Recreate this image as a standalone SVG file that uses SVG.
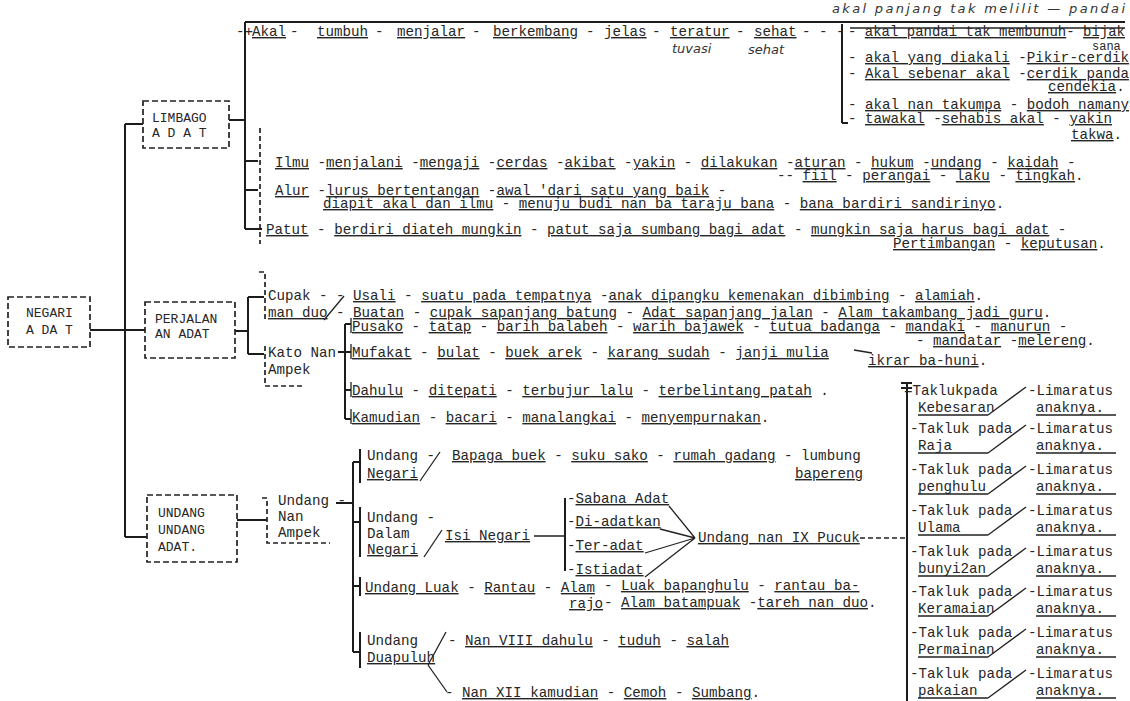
<svg xmlns="http://www.w3.org/2000/svg" width="1130" height="701" viewBox="0 0 1130 701" xml:space="preserve">
<style>
text{font-family:"Liberation Mono","DejaVu Sans Mono",monospace;font-size:14.2px;fill:#262626;}
.u{text-decoration:underline;}
.bx{font-size:13px;}
.sm{font-size:12px;}
.hw{font-family:"DejaVu Sans","Liberation Sans",sans-serif;font-style:italic;font-size:13px;fill:#333;}
.box{fill:none;stroke:#222;stroke-width:1.7;stroke-dasharray:6 3;}
.ln{fill:none;stroke:#1c1c1c;stroke-width:2;}
.th{fill:none;stroke:#222;stroke-width:1.3;}
.ds{fill:none;stroke:#222;stroke-width:1.7;stroke-dasharray:5 3;}
</style>
<rect width="1130" height="701" fill="#ffffff"/>

<g id="connectors">
<path class="ln" d="M125,124 V537 M125,124 H143 M90,330 H145 M125,537 H147"/>
<path class="ln" d="M229,120 H245 M245,22 V229 M245,22 H1125 M245,161 H258 M245,190 H258 M245,229 H262"/>
<path class="th" d="M850,28 H1125"/>
<path class="ds" d="M260,128 V244"/>
<path class="ln" d="M842,24 V123 M842,123 H848"/>
<path class="ln" d="M235,331 H248 M248,297 V354 M248,297 H264 M248,354 H264"/>
<path class="ds" d="M259,272 H265 V320 M265,346 V386 H302"/>
<path class="th" d="M324,320 L344,296"/>
<path class="ln" d="M338,352 H345 M345,324 V419 M345,324 H351 M345,352 H351 M345,390 H351 M345,419 H351"/>
<path class="th" d="M351,318 V333 M351,344 V359 M351,382 V397 M351,409 V424"/>
<path class="th" d="M854,350 L872,353"/>
<path class="ln" d="M237,520 H267"/>
<path class="ds" d="M262,498 H267 V543 H330"/>
<path class="ln" d="M336,503 H353 M353,462 V652 M353,462 H360 M353,522 H360 M353,586 H360 M353,652 H360"/>
<path class="ln" d="M360,449 V483 M360,507 V557 M360,577 V596 M360,632 V668"/>
<path class="th" d="M420,481 L440,452 M424,557 L442,530 M534,536 H565"/>
<path class="ln" d="M565,498 V571"/>
<path class="th" d="M669,506 L695,538 M660,529 L695,538 M645,553 L695,538 M645,577 L695,538"/>
<path class="ds" d="M860,538 H907"/>
<path class="ln" d="M907,383 V701 M901,383 H912 M901,388 H912"/>
<path class="th" d="M428,665 L446,632 M428,665 L447,692"/>
<path class="th" d="M918,415 H988 M988,415 L1026,387 M1036,415 H1116 M918,453 H988 M988,453 L1026,425 M1036,453 H1116 M918,494 H988 M988,494 L1026,466 M1036,494 H1116 M918,535 H988 M988,535 L1026,507 M1036,535 H1116 M918,576 H988 M988,576 L1026,548 M1036,576 H1116 M918,616 H988 M988,616 L1026,588 M1036,616 H1116 M918,657 H988 M988,657 L1026,629 M1036,657 H1116 M918,698 H988 M988,698 L1026,670 M1036,698 H1116"/>
</g>

<g id="negari-adat"><rect class="box" x="8" y="297" width="82" height="50"/><text class="bx" x="26" y="317">NEGARI</text><text class="bx" x="26" y="334">A DA T</text></g>
<g id="limbago-adat"><rect class="box" x="143" y="101" width="86" height="47"/><text class="bx" x="152" y="122">LIMBAGO</text><text class="bx" x="152" y="137">A D A T</text></g>
<g id="perjalanan-adat"><rect class="box" x="145" y="302" width="90" height="56"/><text class="bx" x="155" y="323">PERJALAN</text><text class="bx" x="155" y="338">AN ADAT</text></g>
<g id="undang-undang-adat"><rect class="box" x="147" y="495" width="90" height="67"/><text class="bx" x="158" y="517">UNDANG</text><text class="bx" x="158" y="534">UNDANG</text><text class="bx" x="158" y="551">ADAT.</text></g>

<g id="akal">
<text y="36"><tspan x="236">-+</tspan><tspan x="252" class="u">Akal</tspan><tspan x="290">-</tspan><tspan x="317" class="u">tumbuh</tspan><tspan x="375">-</tspan><tspan x="397" class="u">menjalar</tspan><tspan x="472">-</tspan><tspan x="493" class="u">berkembang</tspan><tspan x="586">-</tspan><tspan x="604" class="u">jelas</tspan><tspan x="652">-</tspan><tspan x="670" class="u">teratur</tspan><tspan x="736">-</tspan><tspan x="754" class="u">sehat</tspan><tspan x="802">- - -</tspan></text>
<text class="hw" x="672" y="53">tuvasi</text>
<text class="hw" x="748" y="54">sehat</text>
<text class="hw" x="832" y="13" textLength="293">akal panjang tak melilit — pandai</text>
</g>

<g id="akal-right">
<text x="848" y="36" textLength="277" lengthAdjust="spacingAndGlyphs">- <tspan class="u">akal pandai tak membunuh</tspan>- <tspan class="u">bijak</tspan></text>
<text class="sm" x="1092" y="50">sana</text>
<text x="848" y="62">- <tspan class="u">akal yang diakali</tspan> -<tspan class="u">Pikir-cerdik</tspan></text>
<text x="848" y="78">- <tspan class="u">Akal sebenar akal</tspan> -<tspan class="u">cerdik panda</tspan></text>
<text x="1048" y="91"><tspan class="u">cendekia</tspan>.</text>
<text x="848" y="109">- <tspan class="u">akal nan takumpa</tspan> - <tspan class="u">bodoh namany</tspan></text>
<text x="848" y="123">- <tspan class="u">tawakal</tspan> -<tspan class="u">sehabis akal</tspan> - <tspan class="u">yakin</tspan></text>
<text x="1071" y="139"><tspan class="u">takwa</tspan>.</text>
</g>

<g id="ilmu">
<text x="275" y="167"><tspan class="u">Ilmu</tspan>  -<tspan class="u">menjalani</tspan> -<tspan class="u">mengaji</tspan> -<tspan class="u">cerdas</tspan> -<tspan class="u">akibat</tspan> -<tspan class="u">yakin</tspan> - <tspan class="u">dilakukan</tspan> -<tspan class="u">aturan</tspan> - <tspan class="u">hukum</tspan> -<tspan class="u">undang</tspan> - <tspan class="u">kaidah</tspan> -</text>
<text x="777" y="180">-- <tspan class="u">fiil</tspan> - <tspan class="u">perangai</tspan> - <tspan class="u">laku</tspan> - <tspan class="u">tingkah</tspan>.</text>
</g>
<g id="alur">
<text x="275" y="195"><tspan class="u">Alur</tspan> -<tspan class="u">lurus bertentangan</tspan> -<tspan class="u">awal 'dari satu yang baik</tspan> -</text>
<text x="323" y="208"><tspan class="u">diapit akal dan ilmu</tspan> - <tspan class="u">menuju budi nan ba taraju bana</tspan> - <tspan class="u">bana bardiri sandirinyo</tspan>.</text>
</g>
<g id="patut">
<text x="266" y="234"><tspan class="u">Patut</tspan> -  <tspan class="u">berdiri diateh mungkin</tspan> - <tspan class="u">patut saja sumbang bagi adat</tspan> - <tspan class="u">mungkin saja harus bagi adat</tspan> -</text>
<text x="893" y="248"><tspan class="u">Pertimbangan</tspan> - <tspan class="u">keputusan</tspan>.</text>
</g>

<g id="cupak-nan-duo">
<text x="268" y="300">Cupak -</text>
<text x="268" y="317"><tspan class="u">man duo</tspan></text>
<text x="336" y="300">- <tspan class="u">Usali</tspan> - <tspan class="u">suatu pada tempatnya</tspan> -<tspan class="u">anak dipangku kemenakan dibimbing</tspan> - <tspan class="u">alamiah</tspan>.</text>
<text x="336" y="317">- <tspan class="u">Buatan</tspan> - <tspan class="u">cupak sapanjang batung</tspan> - <tspan class="u">Adat sapanjang jalan</tspan> - <tspan class="u">Alam takambang jadi guru</tspan>.</text>
</g>

<g id="kato-nan-ampek">
<text x="268" y="357">Kato Nan</text>
<text x="268" y="374">Ampek</text>
<text x="352" y="331"><tspan class="u">Pusako</tspan> - <tspan class="u">tatap</tspan> -  <tspan class="u">barih balabeh</tspan> -  <tspan class="u">warih bajawek</tspan> - <tspan class="u">tutua badanga</tspan> - <tspan class="u">mandaki</tspan> - <tspan class="u">manurun</tspan> -</text>
<text x="916" y="345">- <tspan class="u">mandatar</tspan> -<tspan class="u">melereng</tspan>.</text>
<text x="352" y="357"><tspan class="u">Mufakat</tspan> -  <tspan class="u">bulat</tspan> - <tspan class="u">buek arek</tspan> -  <tspan class="u">karang sudah</tspan> -  <tspan class="u">janji mulia</tspan></text>
<text x="868" y="365"><tspan class="u">ikrar ba-huni</tspan>.</text>
<text x="352" y="395"><tspan class="u">Dahulu</tspan> -  <tspan class="u">ditepati</tspan> -  <tspan class="u">terbujur lalu</tspan> -  <tspan class="u">terbelintang patah</tspan> .</text>
<text x="352" y="422"><tspan class="u">Kamudian</tspan> -  <tspan class="u">bacari</tspan> -  <tspan class="u">manalangkai</tspan> -  <tspan class="u">menyempurnakan</tspan>.</text>
</g>

<g id="undang-nan-ampek">
<text x="278" y="505">Undang -</text>
<text x="278" y="521">Nan</text>
<text x="278" y="537">Ampek</text>
</g>

<g id="undang-negari">
<text x="367" y="460">Undang -</text>
<text x="367" y="478"><tspan class="u">Negari</tspan></text>
<text x="452" y="460"><tspan class="u">Bapaga buek</tspan> - <tspan class="u">suku sako</tspan> - <tspan class="u">rumah gadang</tspan> - lumbung</text>
<text x="795" y="478"><tspan class="u">bapereng</tspan></text>
</g>

<g id="undang-dalam-negari">
<text x="367" y="522">Undang -</text>
<text x="367" y="538">Dalam</text>
<text x="367" y="554"><tspan class="u">Negari</tspan></text>
<text x="445" y="540"><tspan class="u">Isi Negari</tspan></text>
<text x="567" y="503">-<tspan class="u">Sabana Adat</tspan></text>
<text x="567" y="526">-<tspan class="u">Di-adatkan</tspan></text>
<text x="567" y="550">-<tspan class="u">Ter-adat</tspan></text>
<text x="567" y="574">-<tspan class="u">Istiadat</tspan></text>
<text x="698" y="542"><tspan class="u">Undang nan IX Pucuk</tspan></text>
</g>

<g id="undang-luak">
<text x="365" y="592"><tspan class="u">Undang Luak</tspan> - <tspan class="u">Rantau</tspan> -  <tspan class="u">Alam</tspan></text>
<text x="604" y="590">- <tspan class="u">Luak bapanghulu</tspan> - <tspan class="u">rantau ba-</tspan></text>
<text x="569" y="608"><tspan class="u">rajo</tspan></text>
<text x="604" y="607">- <tspan class="u">Alam batampuak</tspan> -<tspan class="u">tareh nan duo</tspan>.</text>
</g>

<g id="undang-duapuluh">
<text x="367" y="645">Undang</text>
<text x="367" y="662"><tspan class="u">Duapuluh</tspan></text>
<text x="448" y="645">- <tspan class="u">Nan VIII dahulu</tspan> - <tspan class="u">tuduh</tspan> - <tspan class="u">salah</tspan></text>
<text x="445" y="697">- <tspan class="u">Nan XII kamudian</tspan> - <tspan class="u">Cemoh</tspan> - <tspan class="u">Sumbang</tspan>.</text>
</g>

<g id="takluk">
<text x="904" y="395">=Taklukpada</text><text x="1028" y="395">-Limaratus</text><text x="918" y="412">Kebesaran</text><text x="1036" y="412">anaknya.</text>
<text x="910" y="433">-Takluk pada</text><text x="1028" y="433">-Limaratus</text><text x="918" y="450">Raja</text><text x="1036" y="450">anaknya.</text>
<text x="910" y="474">-Takluk pada</text><text x="1028" y="474">-Limaratus</text><text x="918" y="491">penghulu</text><text x="1036" y="491">anaknya.</text>
<text x="910" y="515">-Takluk pada</text><text x="1028" y="515">-Limaratus</text><text x="918" y="532">Ulama</text><text x="1036" y="532">anaknya.</text>
<text x="910" y="556">-Takluk pada</text><text x="1028" y="556">-Limaratus</text><text x="918" y="573">bunyi2an</text><text x="1036" y="573">anaknya.</text>
<text x="910" y="596">-Takluk pada</text><text x="1028" y="596">-Limaratus</text><text x="918" y="613">Keramaian</text><text x="1036" y="613">anaknya.</text>
<text x="910" y="637">-Takluk pada</text><text x="1028" y="637">-Limaratus</text><text x="918" y="654">Permainan</text><text x="1036" y="654">anaknya.</text>
<text x="910" y="678">-Takluk pada</text><text x="1028" y="678">-Limaratus</text><text x="918" y="695">pakaian</text><text x="1036" y="695">anaknya.</text>
</g>
</svg>
